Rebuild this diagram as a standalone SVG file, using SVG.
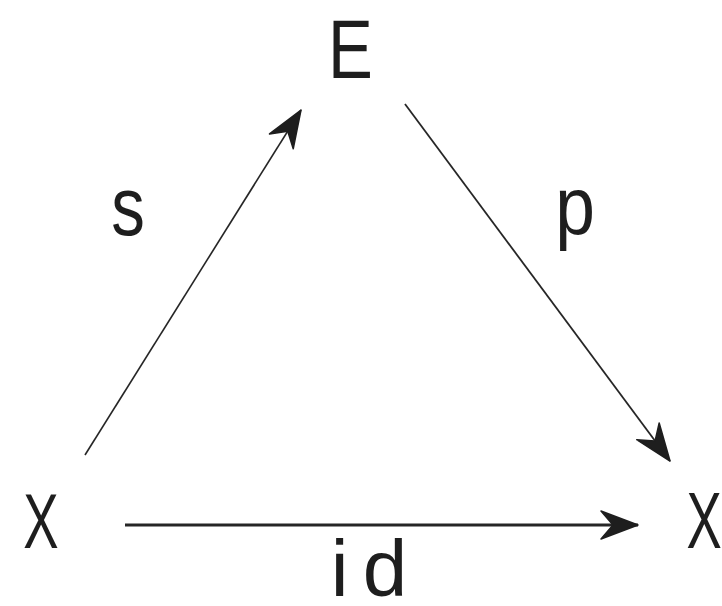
<svg xmlns="http://www.w3.org/2000/svg" width="722" height="606" viewBox="0 0 722 606">
  <style>
    .lbl { font-family: "Liberation Sans", Arial, sans-serif; fill: #1e1e1e; text-anchor: middle; }
    .edge { stroke: #262626; fill: none; }
  </style>
  <defs>
    <marker id="arr" markerUnits="userSpaceOnUse" markerWidth="44" markerHeight="34" viewBox="-40 -17 44 34" refX="0" refY="0" orient="auto">
      <path d="M0,0 L-37,-14 L-25,0 L-37,14 Z" fill="#1e1e1e" stroke="#1e1e1e" stroke-width="1.5" stroke-linejoin="round"/>
    </marker>
  </defs>
  <rect width="722" height="606" fill="#ffffff"/>

  <g id="node-E">
    <text class="lbl" font-size="84" transform="translate(350.5,78) scale(0.8,1)">E</text>
  </g>
  <g id="node-X-left">
    <text class="lbl" font-size="78" transform="translate(41,548) scale(0.68,1)">X</text>
  </g>
  <g id="node-X-right">
    <text class="lbl" font-size="80" transform="translate(704,548) scale(0.66,1)">X</text>
  </g>

  <g id="connectors">
    <line class="edge" x1="85" y1="455" x2="301" y2="110" stroke-width="1.6" marker-end="url(#arr)"/>
    <line class="edge" x1="405" y1="104" x2="670" y2="461" stroke-width="1.8" marker-end="url(#arr)"/>
    <line class="edge" x1="125" y1="525" x2="638" y2="525" stroke-width="3" marker-end="url(#arr)"/>
  </g>

  <g id="labels">
    <text class="lbl" font-size="84" transform="translate(128,235) scale(0.8,1)">s</text>
    <text class="lbl" font-size="82" transform="translate(575,234) scale(0.87,1)">p</text>
    <text class="lbl" font-size="80" x="376" y="596" letter-spacing="14">id</text>
  </g>
</svg>
